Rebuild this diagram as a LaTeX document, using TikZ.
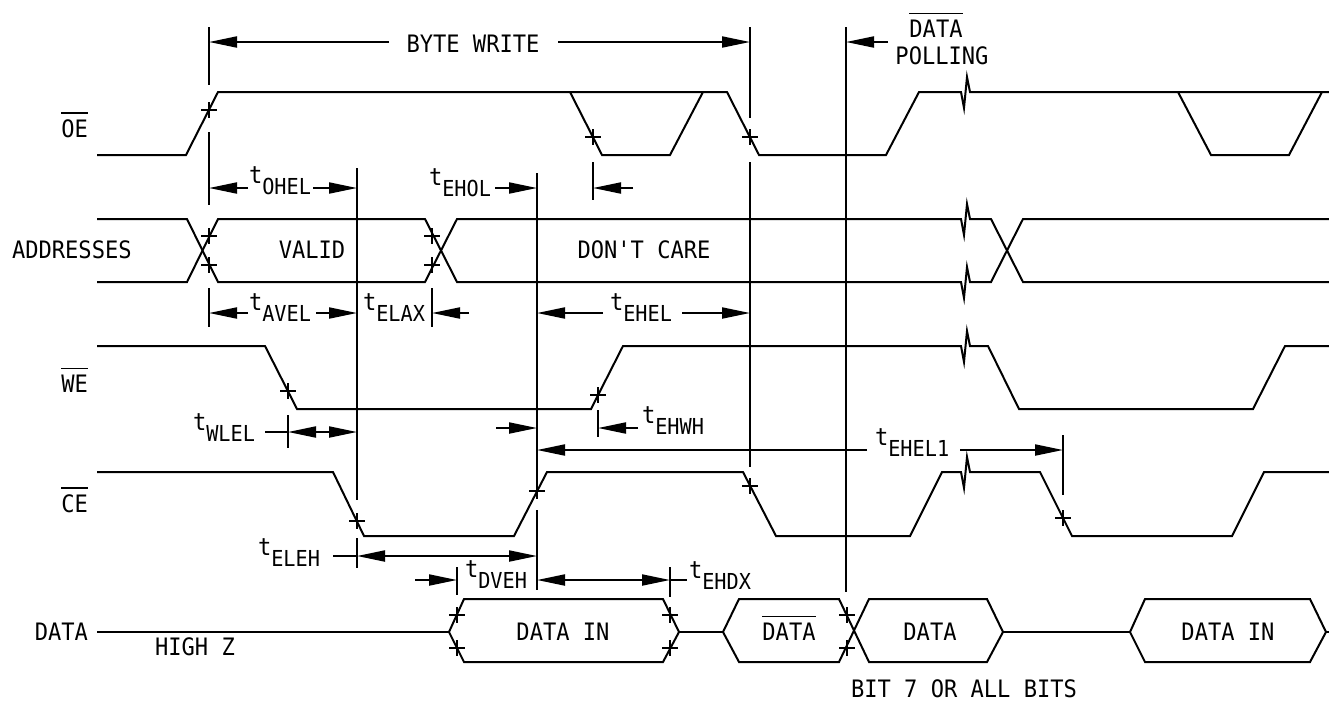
\documentclass[tikz,border=0pt]{standalone}
\usepackage{fontspec}
\setmonofont[FakeStretch=0.92]{DejaVu Sans Mono}
\usetikzlibrary{arrows.meta}

% signal name with a bar over it
\newcommand{\ovl}[1]{\vbox{\hrule height 0.9pt\kern 2.6pt\hbox{#1}}}
% timing parameter, t with lowered subscript
\newcommand{\tsub}[1]{t\raisebox{-5.5pt}{\fontsize{11}{11}\selectfont #1}}
% break in a long signal
\newcommand{\brk}{-- ++(3,16) -- ++(3,-31) -- ++(3,15)}

\begin{document}
\begin{tikzpicture}[
    x=0.5pt, y=-0.5pt,
    line width=1pt,
    every node/.style={font=\ttfamily\fontsize{12}{14}\selectfont, inner sep=0pt},
    tip/.style={-{Triangle[length=14pt,width=5.5pt]}},
    tips/.style={{Triangle[length=14pt,width=5.5pt]}-{Triangle[length=14pt,width=5.5pt]}}]

    \useasboundingbox (0,0) rectangle (1329,703);

    % signal names
    \node[anchor=base east] (oe)   at (89,137) {\ovl{OE}};
    \node[anchor=base west] (addr) at (11,258) {ADDRESSES};
    \node[anchor=base east] (we)   at (89,392) {\ovl{WE}};
    \node[anchor=base east] (ce)   at (89,512) {\ovl{CE}};
    \node[anchor=base east] (data) at (89,640) {DATA};

    % OE
    \draw (97,155) -- (186,155) -- (218,92) -- (727,92) -- (759,155) -- (886,155)
          -- (919,92) -- (961,92) \brk -- (1329,92);
    \draw (570,92) -- (602,155) -- (670,155) -- (703,92);
    \draw (1178,92) -- (1211,155) -- (1289,155) -- (1322,92);

    % ADDRESSES
    \draw (97,219) -- (187,219) -- (218,282) -- (425,282) -- (457,219) -- (961,219) \brk
          -- (991,219) -- (1023,282) -- (1329,282);
    \draw (97,282) -- (187,282) -- (218,219) -- (425,219) -- (457,282) -- (961,282) \brk
          -- (991,282) -- (1023,219) -- (1329,219);
    \node[anchor=base] (valid) at (312,258) {VALID};
    \node[anchor=base] (care)  at (644,258) {DON'T CARE};

    % WE
    \draw (97,346) -- (265,346) -- (297,409) -- (591,409) -- (623,346) -- (961,346) \brk
          -- (988,346) -- (1019,409) -- (1253,409) -- (1285,346) -- (1329,346);

    % CE
    \draw (97,472) -- (333,472) -- (364,536) -- (514,536) -- (547,472) -- (743,472)
          -- (776,536) -- (910,536) -- (942,472) -- (961,472) \brk -- (1040,472)
          -- (1072,536) -- (1232,536) -- (1264,472) -- (1329,472);

    % DATA
    \draw (97,632) -- (449,632);
    \draw (449,632) -- (464,599) -- (663,599) -- (679,632) -- (663,662) -- (464,662) -- cycle;
    \draw (679,632) -- (723,632);
    \draw (723,632) -- (739,599) -- (839,599) -- (869,662) -- (987,662) -- (1003,632)
          -- (987,599) -- (869,599) -- (839,662) -- (739,662) -- cycle;
    \draw (1003,632) -- (1130,632);
    \draw (1130,632) -- (1145,599) -- (1310,599) -- (1326,632) -- (1310,662) -- (1145,662) -- cycle;
    \draw (1326,632) -- (1329,632);
    \node[anchor=base] (din1)  at (563,640) {DATA IN};
    \node[anchor=base] (dbar)  at (789,640) {\ovl{DATA}};
    \node[anchor=base] (dout)  at (930,640) {DATA};
    \node[anchor=base] (din2)  at (1228,640) {DATA IN};
    \node[anchor=base] (highz) at (195,655) {HIGH Z};
    \node[anchor=base] (bits)  at (964,697) {BIT 7 OR ALL BITS};

    % crossing marks
    \foreach \p in {(209,110),(593,137),(750,137),(209,236),(209,265),(432,236),(432,265),
                    (288,391),(598,395),(357,521),(537,491),(750,486),(1063,518),
                    (457,615),(457,648),(670,615),(670,648),(847,615),(847,648)}
      \draw \p +(-8,0) -- +(8,0) +(0,-8) -- +(0,8);

    % reference lines
    \draw (209,27) -- (209,85) (209,132) -- (209,205) (209,288) -- (209,327)
          (357,168) -- (357,500) (357,538) -- (357,568)
          (432,288) -- (432,327)
          (537,173) -- (537,483) (537,510) -- (537,590)
          (593,162) -- (593,200) (598,410) -- (598,437)
          (750,27) -- (750,118) (750,162) -- (750,467)
          (846,27) -- (846,592)
          (1063,435) -- (1063,495)
          (288,415) -- (288,448)
          (457,567) -- (457,595) (670,567) -- (670,597);

    % byte write / data polling
    \node[anchor=base] (bw) at (473,52) {BYTE WRITE};
    \draw [tip] (389,42) -- (209,42);
    \draw [tip] (558,42) -- (750,42);
    \node[anchor=base] (pdata) at (936,37) {\ovl{DATA}};
    \node[anchor=base] (poll)  at (942,64) {POLLING};
    \draw [tip] (888,42) -- (846,42);

    % timing parameters
    \node[anchor=base west] (ohel) at (248,183) {\tsub{OHEL}};
    \draw [tip] (248,188) -- (209,188);
    \draw [tip] (313,188) -- (357,188);

    \node[anchor=base west] (ehol) at (428,185) {\tsub{EHOL}};
    \draw [tip] (495,188) -- (537,188);
    \draw [tip] (633,188) -- (593,188);

    \node[anchor=base west] (avel) at (248,310) {\tsub{AVEL}};
    \draw [tip] (248,313) -- (209,313);
    \draw [tip] (316,313) -- (357,313);

    \node[anchor=base west] (elax) at (362,310) {\tsub{ELAX}};
    \draw [tip] (469,313) -- (432,313);

    \node[anchor=base west] (ehel) at (609,310) {\tsub{EHEL}};
    \draw [tip] (603,313) -- (537,313);
    \draw [tip] (682,313) -- (750,313);

    \node[anchor=base west] (wlel) at (192,430) {\tsub{WLEL}};
    \draw (265,432) -- (288,432);
    \draw [tips] (288,432) -- (357,432);

    \draw [tip] (496,428) -- (537,428);
    \node[anchor=base west] (ehwh) at (641,423) {\tsub{EHWH}};
    \draw [tip] (638,428) -- (598,428);

    \node[anchor=base west] (ehel1) at (874,445) {\tsub{EHEL1}};
    \draw [tip] (867,450) -- (537,450);
    \draw [tip] (960,450) -- (1063,450);

    \node[anchor=base west] (eleh) at (257,555) {\tsub{ELEH}};
    \draw (333,556) -- (357,556);
    \draw [tips] (357,556) -- (537,556);

    \node[anchor=base west] (dveh) at (464,577) {\tsub{DVEH}};
    \draw [tip] (415,580) -- (457,580);
    \draw [tips] (537,580) -- (670,580);
    \draw (670,580) -- (687,580);
    \node[anchor=base west] (ehdx) at (688,578) {\tsub{EHDX}};
\end{tikzpicture}
\end{document}
